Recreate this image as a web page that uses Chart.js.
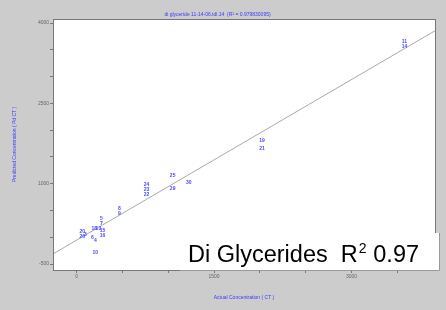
<!DOCTYPE html>
<html>
<head>
<meta charset="utf-8">
<script src="https://cdn.jsdelivr.net/npm/chart.js@4"></script>
<style>
  html, body { margin: 0; padding: 0; background: #cccccc; }
  #wrap { width: 446px; height: 310px; }
</style>
</head>
<body>
<div id="wrap"><canvas id="myChart" width="446" height="310"></canvas></div>
<script>
// sample values
const actual    = [3577, 3577, 2022, 2022, 1048, 1048, 1223, 763, 763, 763, 468, 468, 271, 271, 63, 63, 96, 194, 238, 282, 282, 172, 205, 205];
const predicted = [3644, 3550, 1806, 1656, 1150, 906, 1019, 981, 888, 794, 531, 438, 344, 250, 100, 6, 44, 156, 156, 119, 25, -13, -69, -294];
const sampleIds = ['11', '14', '19', '21', '25', '29', '30', '24', '23', '22', '8', '9', '5', '7', '20', '26', '3', '18', '13', '15', '16', '6', '4', '10'];

const fitX = [-257, 3910];
const fitY = [-312, 3855];

const xTicks = [0, 500, 1000, 1500, 2000, 2500, 3000, 3500];
const xLabels = [0, 1500, 3000];
const yTicks = [-500, 0, 500, 1000, 1500, 2000, 2500, 3000, 3500, 4000];
const yLabels = [-500, 1000, 2500, 4000];

const ctx = document.getElementById('myChart');

const frame = {
  id: 'frame',
  beforeDraw(chart) {
    const c = chart.ctx, a = chart.chartArea;
    c.save();
    c.fillStyle = '#cccccc';
    c.fillRect(0, 0, chart.width, chart.height);
    c.fillStyle = '#ffffff';
    c.fillRect(a.left, a.top, a.right - a.left, a.bottom - a.top);
    c.restore();
  },
  afterDatasetsDraw(chart) {
    const c = chart.ctx;
    const meta = chart.getDatasetMeta(1);
    c.save();
    c.fillStyle = '#4a4aff';
    c.font = 'bold 5px Arial';
    c.textAlign = 'center';
    c.textBaseline = 'middle';
    meta.data.forEach((pt, i) => {
      c.fillText(sampleIds[i], pt.x, pt.y);
    });
    c.restore();
  },
  afterDraw(chart) {
    const c = chart.ctx, a = chart.chartArea;
    c.save();
    c.strokeStyle = '#777777';
    c.lineWidth = 1;
    c.strokeRect(a.left + 0.5, a.top + 0.5, a.right - a.left, a.bottom - a.top);
    // label box
    c.fillStyle = '#ffffff';
    c.fillRect(180, 233, 260, 37);
    c.strokeStyle = '#999999';
    c.beginPath();
    c.moveTo(439.5, 233);
    c.lineTo(439.5, 270.5);
    c.lineTo(180, 270.5);
    c.stroke();
    c.fillStyle = '#000000';
    c.textBaseline = 'alphabetic';
    c.font = '23.5px Arial';
    c.fillText('Di Glycerides  R', 188, 262);
    const w = c.measureText('Di Glycerides  R').width;
    c.font = '14px Arial';
    c.fillText('2', 188 + w + 1, 253);
    c.font = '23.5px Arial';
    c.fillText(' 0.97', 188 + w + 9, 262);
    c.restore();
  }
};

new Chart(ctx, {
  type: 'scatter',
  data: {
    datasets: [{
      type: 'line',
      data: fitX.map((x, i) => ({ x: x, y: fitY[i] })),
      borderColor: '#aaaaaa',
      borderWidth: 1,
      pointRadius: 0,
      fill: false
    }, {
      data: actual.map((x, i) => ({ x: x, y: predicted[i] })),
      pointRadius: 0,
      backgroundColor: '#4a4aff'
    }]
  },
  options: {
    responsive: false,
    animation: false,
    layout: { padding: { left: 0, right: 11, top: 0, bottom: 0 } },
    plugins: {
      legend: { display: false },
      tooltip: { enabled: false },
      title: {
        display: true,
        text: 'di glyceride 11-14-06.tdl.14  (R\u00b2 = 0.979830095)',
        color: '#3a3aff',
        font: { family: 'Arial', size: 5, weight: 'normal' },
        padding: { top: 12, bottom: 1 }
      }
    },
    scales: {
      x: {
        type: 'linear',
        min: -257,
        max: 3910,
        afterBuildTicks: s => { s.ticks = xTicks.map(v => ({ value: v })); },
        afterFit: s => { s.height = 40; },
        grid: { drawOnChartArea: false, drawTicks: true, tickLength: 3, color: '#777777' },
        border: { color: '#777777' },
        ticks: {
          autoSkip: false,
          maxRotation: 0,
          padding: 1,
          color: '#666666',
          font: { family: 'Arial', size: 5 },
          callback: v => xLabels.includes(v) ? String(v) : ''
        },
        title: {
          display: true,
          text: 'Actual Concentration ( CT )',
          color: '#3a3aff',
          font: { family: 'Arial', size: 5 },
          padding: { top: 0, bottom: 9 }
        }
      },
      y: {
        type: 'linear',
        min: -612,
        max: 4075,
        afterBuildTicks: s => { s.ticks = yTicks.map(v => ({ value: v })); },
        afterFit: s => { s.width = 53; },
        grid: { drawOnChartArea: false, drawTicks: true, tickLength: 3, color: '#777777' },
        border: { color: '#777777' },
        ticks: {
          autoSkip: false,
          padding: 1,
          color: '#666666',
          font: { family: 'Arial', size: 5 },
          callback: v => yLabels.includes(v) ? String(v) : ''
        },
        title: {
          display: true,
          text: 'Predicted Concentration ( Pd CT )',
          color: '#3a3aff',
          font: { family: 'Arial', size: 5 },
          padding: { top: 12, bottom: 0 }
        }
      }
    }
  },
  plugins: [frame]
});
</script>
</body>
</html>
